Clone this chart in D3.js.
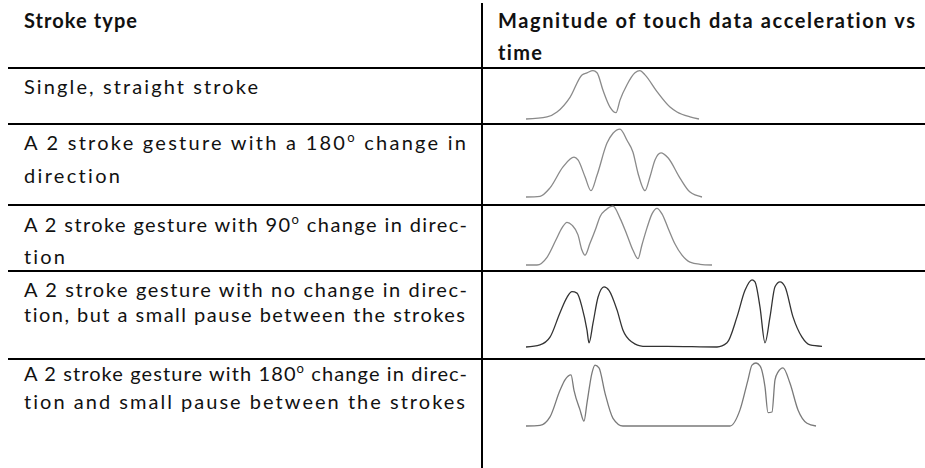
<!DOCTYPE html>
<html>
<head>
<meta charset="utf-8">
<script src="https://cdn.jsdelivr.net/npm/d3@7"></script>
<style>
  body { margin: 0; background: #fff; }
  text { font-family: Lato, "Open Sans", sans-serif; fill: #111; font-variant-ligatures: none; }
</style>
</head>
<body>
<script>
// table text ("^o" marks the superscript o used as the degree sign)
const headLeft = ["Stroke type"];
const headRight = ["Magnitude of touch data acceleration vs", "time"];
const strokeTypes = [
  ["Single, straight stroke"],
  ["A 2 stroke gesture with a 180^o change in", "direction"],
  ["A 2 stroke gesture with 90^o change in direc-", "tion"],
  ["A 2 stroke gesture with no change in direc-", "tion, but a small pause between the strokes"],
  ["A 2 stroke gesture with 180^o change in direc-", "tion and small pause between the strokes"]
];

// acceleration magnitude traces: [time ms, magnitude %]
const accSingle = [[0,0],[210,3],[310,10],[440,31],[560,63],[610,66],[670,69],[710,66],[770,41],[840,17],[900,9],
  [940,27],[1010,49],[1090,66],[1140,69],[1190,63],[1310,39],[1440,17],[1510,10],[1640,3],[1730,0]];
const acc180 = [[0,0],[140,1],[240,13],[370,43],[480,57],[520,53],[590,29],[650,9],[710,31],[810,77],[870,91],
  [940,97],[1010,81],[1070,64],[1120,34],[1190,9],[1240,29],[1290,53],[1350,63],[1420,56],[1540,27],[1640,7],[1760,0]];
const acc90 = [[0,0],[110,0],[210,11],[300,36],[360,53],[410,61],[460,57],[520,43],[560,21],[590,14],[640,31],
  [700,53],[740,69],[800,79],[870,84],[940,67],[1010,43],[1070,21],[1120,9],[1160,29],[1210,53],[1260,73],
  [1310,81],[1360,73],[1420,53],[1490,30],[1560,14],[1640,4],[1740,1],[1860,0]];
const accPause = [[0,0],[140,3],[240,14],[340,49],[410,71],[460,79],[510,77],[560,57],[610,24],[630,6],[670,34],
  [720,71],[780,86],[830,81],[910,53],[970,24],[1060,7],[1170,1],[1410,1],[1910,0],[2010,6],[2110,43],[2190,81],
  [2260,96],[2290,93],[2340,57],[2390,6],[2440,43],[2490,86],[2540,93],[2590,86],[2670,43],[2760,14],[2840,3],[2960,1]];
const acc180Pause = [[0,0],[140,1],[240,13],[340,51],[390,66],[450,73],[480,51],[540,23],[580,7],[610,33],[660,76],
  [690,87],[730,83],[790,47],[870,11],[970,0],[2040,0],[2140,23],[2220,66],[2260,87],[2300,90],[2340,86],[2390,56],
  [2420,19],[2460,20],[2490,66],[2520,77],[2570,83],[2640,61],[2720,23],[2810,4],[2900,0]];
const traces = [accSingle, acc180, acc90, accPause, acc180Pause];

// layout
const W = 925, H = 468;
const ruleY = [68, 124, 205, 271, 359];
const colX = 482, textX = 24, rightTextX = 498;
const headBase = [28, 60];
const rowBase = [[94], [150, 183], [232, 264], [297, 322], [381, 409]];
const rowWidths = [[234], [442, 96], [443, 41], [443, 441], [443, 441]];
const curveBase = [119, 197, 265, 347, 426];
const traceColor = ["#8a8a8a", "#8a8a8a", "#8a8a8a", "#333", "#7a7a7a"];

const svg = d3.select("body").append("svg")
  .attr("width", W).attr("height", H);

// horizontal rules and the column divider
svg.selectAll("line.rule")
  .data(ruleY)
  .enter().append("line")
    .attr("class", "rule")
    .attr("x1", 8).attr("x2", W)
    .attr("y1", d => d).attr("y2", d => d)
    .attr("stroke", "#000").attr("stroke-width", 2);

svg.append("line")
  .attr("x1", colX).attr("x2", colX)
  .attr("y1", 3).attr("y2", H)
  .attr("stroke", "#000").attr("stroke-width", 2);

function addLine(str, x, y, len, bold) {
  let t = svg.append("text")
    .attr("x", x).attr("y", y)
    .attr("font-size", 20)
    .attr("font-weight", bold ? 700 : 400)
    .attr("textLength", len)
    .attr("lengthAdjust", "spacing");
  let parts = str.split("^o");
  parts.forEach((p, i) => {
    t.append("tspan").attr("dy", i > 0 ? 8 : null).text(p);
    if (i < parts.length - 1) {
      t.append("tspan").attr("dy", -8).attr("font-size", 13).text("o");
    }
  });
}

// header
addLine(headLeft[0], textX, headBase[0], 113, true);
addLine(headRight[0], rightTextX, headBase[0], 417, true);
addLine(headRight[1], rightTextX, headBase[1], 44, true);

// stroke type descriptions
strokeTypes.forEach((lines, r) => {
  lines.forEach((s, i) => addLine(s, textX, rowBase[r][i], rowWidths[r][i], false));
});

// traces
const x = d3.scaleLinear().domain([0, 3000]).range([526, 826]);
const mag = d3.scaleLinear().domain([0, 100]).range([0, 70]);

traces.forEach((tr, r) => {
  const line = d3.line()
    .x(d => x(d[0]))
    .y(d => curveBase[r] - mag(d[1]))
    .curve(d3.curveMonotoneX);
  svg.append("path")
    .datum(tr)
    .attr("d", line)
    .attr("fill", "none")
    .attr("stroke", traceColor[r])
    .attr("stroke-width", 1.3);
});
</script>
</body>
</html>
